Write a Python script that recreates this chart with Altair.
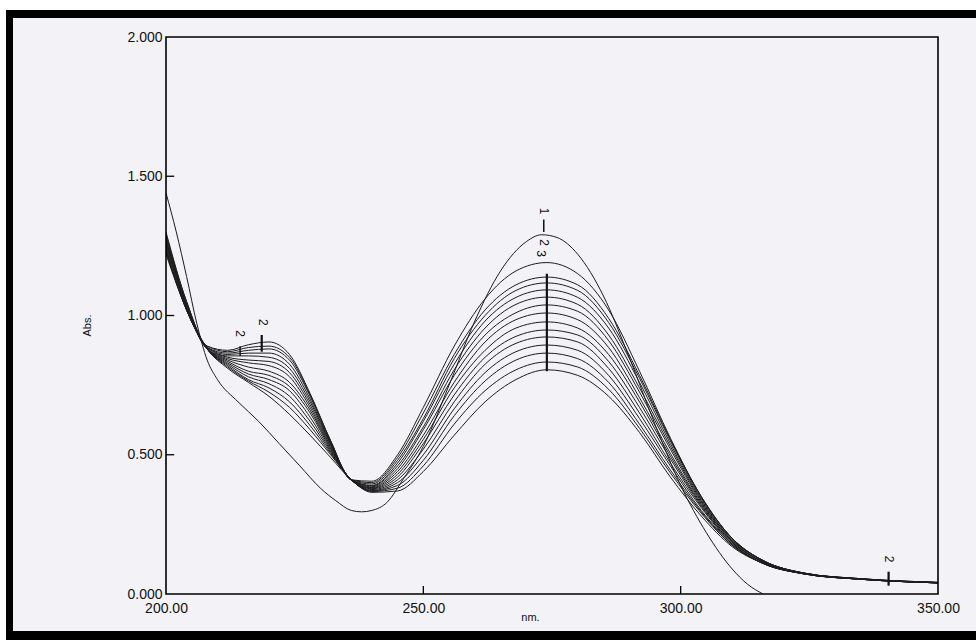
import altair as alt
import pandas as pd

# ---------------- data ----------------
wl = [200, 204, 208, 212, 216, 220, 224, 228, 232, 236, 240, 245, 250, 256,
      262, 268, 274, 280, 286, 292, 298, 304, 310, 316, 324, 335, 350]

wl_free = [200, 202, 204, 206, 208, 210, 214, 218, 222, 226, 230, 233, 236, 238,
           240, 243, 246, 250, 255, 260, 265, 270, 273, 276, 280, 285, 290, 295,
           300, 305, 310, 313, 316]
abs_01 = [1.44, 1.30, 1.14, 0.97, 0.84, 0.77, 0.69, 0.62, 0.54, 0.46, 0.38, 0.335,
          0.30, 0.295, 0.30, 0.33, 0.41, 0.53, 0.75, 0.98, 1.16, 1.265, 1.29, 1.28,
          1.22, 1.07, 0.85, 0.61, 0.39, 0.22, 0.09, 0.035, 0.0]

abs_02 = [1.30, 1.05, 0.89, 0.875, 0.895, 0.905, 0.86, 0.72, 0.55, 0.41, 0.405, 0.50, 0.67, 0.89, 1.06, 1.16, 1.19, 1.15, 1.02, 0.80, 0.56, 0.35, 0.20, 0.12, 0.075, 0.055, 0.042]
abs_03 = [1.29, 1.05, 0.89, 0.87, 0.885, 0.89, 0.85, 0.715, 0.55, 0.41, 0.40, 0.49, 0.65, 0.86, 1.02, 1.11, 1.138, 1.11, 0.99, 0.785, 0.555, 0.35, 0.20, 0.12, 0.075, 0.055, 0.042]
abs_04 = [1.29, 1.04, 0.885, 0.865, 0.875, 0.88, 0.84, 0.71, 0.545, 0.41, 0.395, 0.48, 0.63, 0.845, 1.00, 1.09, 1.117, 1.09, 0.975, 0.775, 0.55, 0.345, 0.20, 0.12, 0.075, 0.055, 0.041]
abs_05 = [1.28, 1.04, 0.885, 0.86, 0.865, 0.865, 0.825, 0.70, 0.54, 0.41, 0.39, 0.47, 0.62, 0.825, 0.98, 1.065, 1.092, 1.065, 0.955, 0.76, 0.54, 0.34, 0.195, 0.12, 0.075, 0.054, 0.041]
abs_06 = [1.27, 1.04, 0.885, 0.855, 0.855, 0.85, 0.81, 0.69, 0.54, 0.41, 0.388, 0.46, 0.60, 0.805, 0.955, 1.04, 1.066, 1.04, 0.93, 0.74, 0.53, 0.335, 0.195, 0.12, 0.074, 0.054, 0.041]
abs_07 = [1.27, 1.03, 0.88, 0.85, 0.84, 0.835, 0.795, 0.68, 0.535, 0.41, 0.385, 0.45, 0.59, 0.785, 0.93, 1.01, 1.038, 1.015, 0.91, 0.725, 0.52, 0.33, 0.19, 0.115, 0.074, 0.054, 0.041]
abs_08 = [1.26, 1.03, 0.88, 0.845, 0.83, 0.82, 0.78, 0.67, 0.53, 0.41, 0.382, 0.44, 0.57, 0.76, 0.905, 0.985, 1.009, 0.985, 0.885, 0.705, 0.505, 0.325, 0.19, 0.115, 0.074, 0.054, 0.040]
abs_09 = [1.26, 1.03, 0.88, 0.84, 0.815, 0.80, 0.76, 0.66, 0.525, 0.41, 0.38, 0.43, 0.555, 0.74, 0.875, 0.955, 0.977, 0.955, 0.86, 0.69, 0.495, 0.32, 0.185, 0.115, 0.073, 0.053, 0.040]
abs_10 = [1.25, 1.03, 0.88, 0.835, 0.80, 0.785, 0.745, 0.65, 0.52, 0.41, 0.378, 0.42, 0.54, 0.715, 0.85, 0.925, 0.948, 0.93, 0.835, 0.67, 0.485, 0.315, 0.185, 0.115, 0.073, 0.053, 0.040]
abs_11 = [1.24, 1.02, 0.88, 0.83, 0.79, 0.77, 0.73, 0.635, 0.515, 0.41, 0.375, 0.41, 0.52, 0.69, 0.825, 0.90, 0.923, 0.905, 0.81, 0.65, 0.47, 0.31, 0.18, 0.11, 0.073, 0.053, 0.040]
abs_12 = [1.24, 1.02, 0.88, 0.825, 0.78, 0.755, 0.71, 0.62, 0.51, 0.41, 0.372, 0.40, 0.50, 0.665, 0.795, 0.87, 0.894, 0.875, 0.785, 0.63, 0.46, 0.30, 0.18, 0.11, 0.072, 0.053, 0.040]
abs_13 = [1.23, 1.02, 0.88, 0.82, 0.77, 0.74, 0.69, 0.605, 0.505, 0.41, 0.37, 0.39, 0.48, 0.64, 0.765, 0.84, 0.865, 0.845, 0.76, 0.61, 0.445, 0.295, 0.175, 0.11, 0.072, 0.053, 0.040]
abs_14 = [1.23, 1.02, 0.88, 0.815, 0.765, 0.725, 0.67, 0.59, 0.50, 0.41, 0.368, 0.38, 0.46, 0.61, 0.73, 0.805, 0.833, 0.815, 0.735, 0.595, 0.435, 0.29, 0.175, 0.11, 0.072, 0.053, 0.040]
abs_15 = [1.22, 1.02, 0.88, 0.81, 0.76, 0.71, 0.645, 0.57, 0.49, 0.41, 0.365, 0.37, 0.44, 0.57, 0.69, 0.77, 0.805, 0.785, 0.71, 0.58, 0.42, 0.28, 0.17, 0.11, 0.072, 0.053, 0.040]

x_ticks = [200, 250, 300, 350]
y_ticks = [0.0, 0.5, 1.0, 1.5, 2.0]

# peak annotations of the instrument print-out
label_nm = [273.4, 273.4, 272.9, 214.4, 218.8, 340.5]
label_abs = [1.375, 1.262, 1.222, 0.935, 0.975, 0.125]
label_txt = ["1", "2", "3", "2", "2", "2"]

mark_nm = [274.0, 273.4, 214.4, 218.6, 340.4]
mark_lo = [0.80, 1.30, 0.855, 0.87, 0.03]
mark_hi = [1.15, 1.345, 0.89, 0.93, 0.08]
mark_w = [2.2, 1.5, 1.5, 2.2, 2.2]

# ---------------- build tables ----------------
curves = [("01", wl_free, abs_01)]
for i, vals in enumerate([abs_02, abs_03, abs_04, abs_05, abs_06, abs_07, abs_08,
                          abs_09, abs_10, abs_11, abs_12, abs_13, abs_14, abs_15]):
    curves.append((f"{i + 2:02d}", wl, vals))
rows = []
for name, xs_, ys_ in curves:
    for x, y in zip(xs_, ys_):
        rows.append({"nm": x, "abs": y, "curve": name})
spec = pd.DataFrame(rows)

W, H = 772, 557
FONT = "Liberation Sans"
PAGE = "#f3f3f7"
INK = "#1c1c1c"

xs = alt.Scale(domain=[200, 350], nice=False, zero=False)
ys = alt.Scale(domain=[0, 2], nice=False)

one = pd.DataFrame({"k": [0]})

black_frame = alt.Chart(one).mark_rect(color="black").encode(
    x=alt.value(-160), x2=alt.value(820), y=alt.value(-27), y2=alt.value(610))
paper = alt.Chart(one).mark_rect(color=PAGE).encode(
    x=alt.value(-153), x2=alt.value(820), y=alt.value(-19), y2=alt.value(594))
plot_frame = alt.Chart(one).mark_rect(fillOpacity=0, stroke="black", strokeWidth=1.6).encode(
    x=alt.value(0), x2=alt.value(W), y=alt.value(0), y2=alt.value(H))

lines = alt.Chart(spec).mark_line(
    interpolate="monotone", color=INK, strokeWidth=1, clip=True
).encode(
    x=alt.X("nm:Q", scale=xs,
            axis=alt.Axis(values=x_ticks, format=".2f", tickSize=0, domain=False,
                          grid=False, labelFlush=False, labelOverlap=False,
                          labelPadding=7, labelFontSize=14, labelFont=FONT,
                          labelColor="#111", title="nm.", titleFont=FONT,
                          titleFontSize=11, titleFontWeight="normal",
                          titleColor="#111", titleX=364, titleY=17, zindex=2)),
    y=alt.Y("abs:Q", scale=ys,
            axis=alt.Axis(values=y_ticks, format=".3f", tickSize=0, domain=False,
                          grid=False, labelPadding=4, labelFontSize=14,
                          labelFont=FONT, labelColor="#111", title="Abs.",
                          titleFont=FONT, titleFontSize=11,
                          titleFontWeight="normal", titleColor="#111",
                          titleX=-74, titleY=288, zindex=2)),
    detail="curve:N",
)

xt = pd.DataFrame({"nm": x_ticks[1:-1], "lo": [0] * 2, "hi": [0.029] * 2})
x_tick_marks = alt.Chart(xt).mark_rule(color="black", strokeWidth=1.3).encode(
    x=alt.X("nm:Q", scale=xs), y=alt.Y("lo:Q", scale=ys), y2="hi:Q")
yt = pd.DataFrame({"a": y_ticks[1:-1], "lo": [200] * 3, "hi": [201.6] * 3})
y_tick_marks = alt.Chart(yt).mark_rule(color="black", strokeWidth=1.3).encode(
    y=alt.Y("a:Q", scale=ys), x=alt.X("lo:Q", scale=xs), x2="hi:Q")

mk = pd.DataFrame({"nm": mark_nm, "lo": mark_lo, "hi": mark_hi, "w": mark_w})
markers = alt.Chart(mk).mark_rule(color="#111").encode(
    x=alt.X("nm:Q", scale=xs), y=alt.Y("lo:Q", scale=ys), y2="hi:Q",
    strokeWidth=alt.StrokeWidth("w:Q", scale=None))

lb = pd.DataFrame({"nm": label_nm, "abs": label_abs, "t": label_txt})
labels = alt.Chart(lb).mark_text(
    angle=90, font=FONT, fontSize=12, color="#111", align="center", baseline="middle"
).encode(x=alt.X("nm:Q", scale=xs), y=alt.Y("abs:Q", scale=ys), text="t:N")

chart = alt.layer(
    black_frame, paper, lines, x_tick_marks, y_tick_marks, markers, labels, plot_frame
).properties(
    width=W, height=H, background="white",
    padding={"left": 166, "top": 37, "right": 38, "bottom": 46},
    autosize=alt.AutoSizeParams(type="none"),
).configure_view(stroke=None)

chart.save("out.html", embed_options={"renderer": "svg", "actions": False})
